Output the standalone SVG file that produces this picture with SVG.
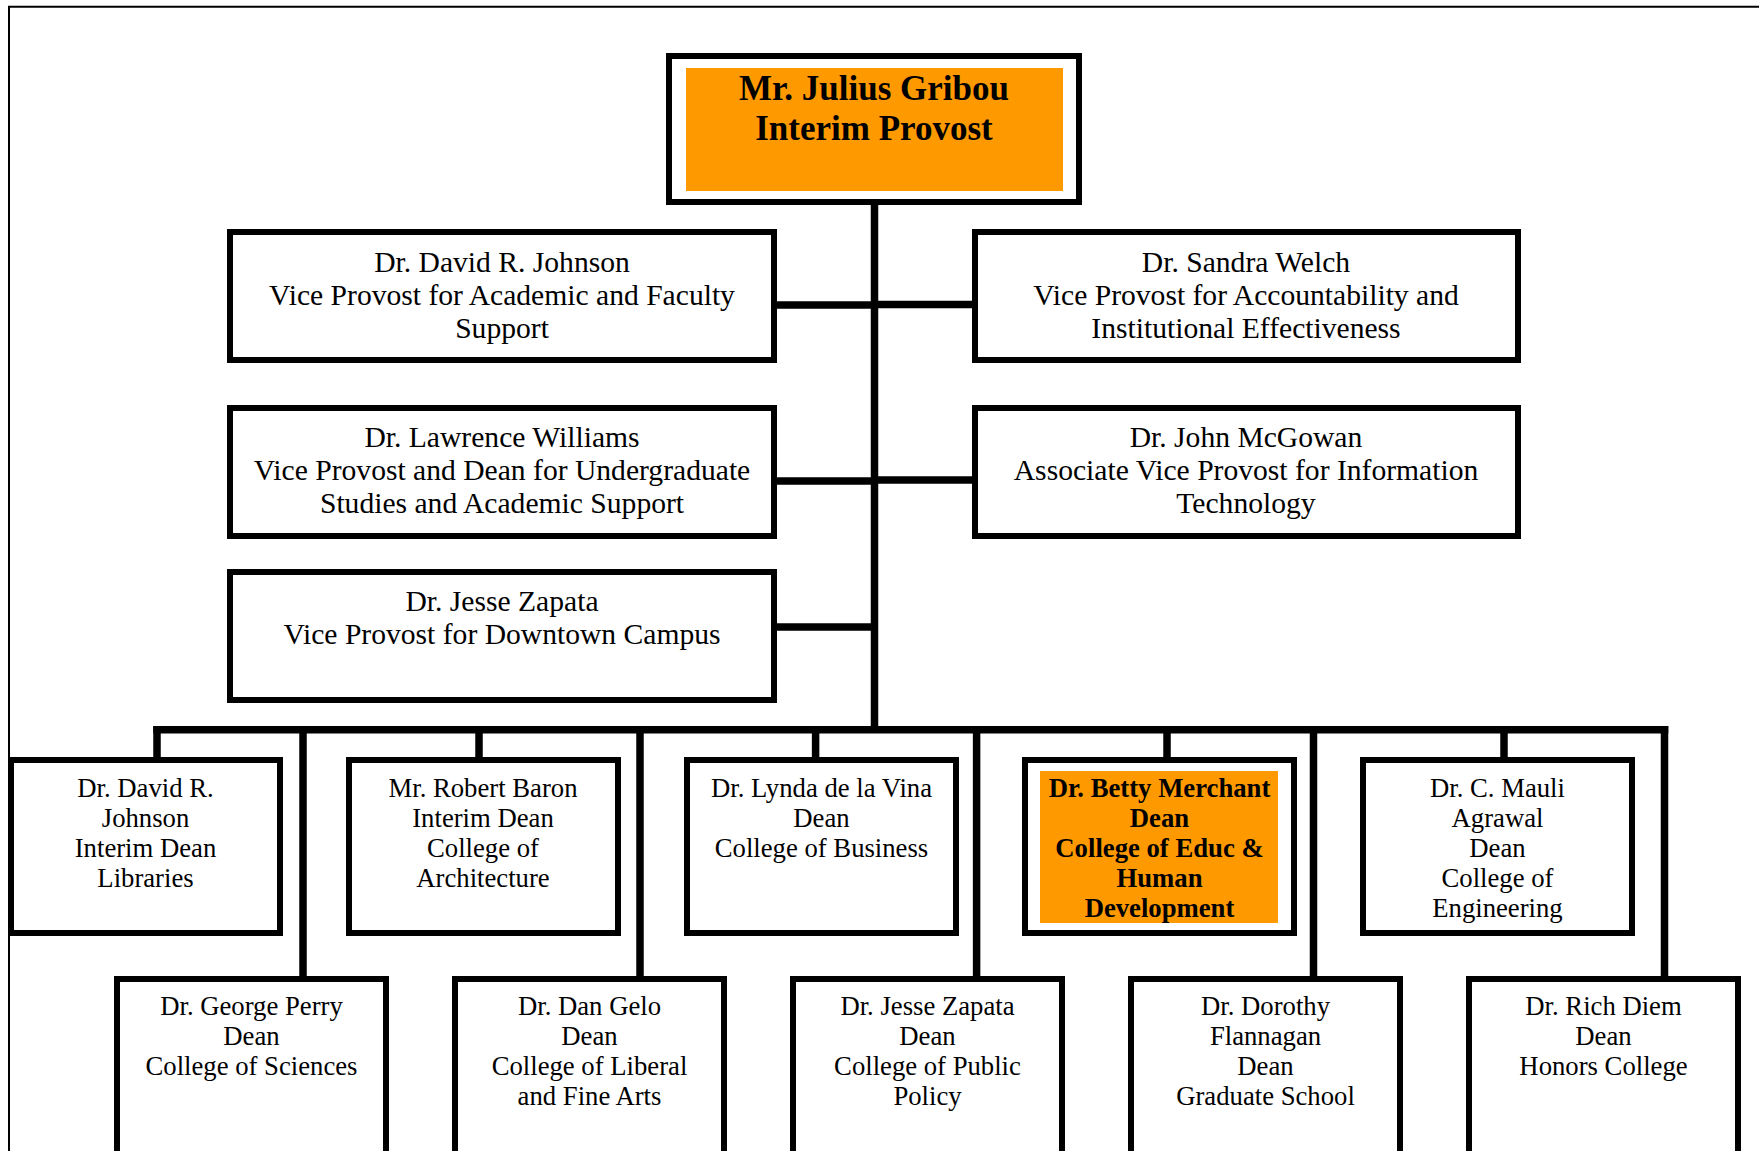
<svg xmlns="http://www.w3.org/2000/svg" width="1759" height="1151" viewBox="0 0 1759 1151">
<style>
.frame{fill:none;stroke:#000;stroke-width:2}
.box{fill:#fff;stroke:#000;stroke-width:6}
.hl{fill:#FF9900}
.conn{stroke:#000;stroke-width:7.5;fill:none}
text{font-family:"Liberation Serif","Times New Roman",serif;fill:#000;text-anchor:middle}
.t29{font-size:29.6px}
.t26{font-size:26.7px}
.b26{font-size:26.7px;font-weight:bold}
.b34{font-size:35px;font-weight:bold}
</style>
<rect width="1759" height="1151" fill="#fff"/>
<path class="frame" d="M9 1151 V6.7 H1759"/>
<g id="connectors">
<line class="conn" x1="874.5" y1="202" x2="874.5" y2="733"/>
<line class="conn" x1="777" y1="305" x2="874.5" y2="305"/>
<line class="conn" x1="777" y1="481" x2="874.5" y2="481"/>
<line class="conn" x1="777" y1="627" x2="874.5" y2="627"/>
<line class="conn" x1="874.5" y1="304.5" x2="972" y2="304.5"/>
<line class="conn" x1="874.5" y1="480" x2="972" y2="480"/>
<line class="conn" x1="153.3" y1="729.7" x2="1668.3" y2="729.7"/>
<line class="conn" x1="157" y1="726" x2="157" y2="760"/>
<line class="conn" x1="303" y1="726" x2="303" y2="979"/>
<line class="conn" x1="479" y1="726" x2="479" y2="760"/>
<line class="conn" x1="640" y1="726" x2="640" y2="979"/>
<line class="conn" x1="815.6" y1="726" x2="815.6" y2="760"/>
<line class="conn" x1="976.6" y1="726" x2="976.6" y2="979"/>
<line class="conn" x1="1167" y1="726" x2="1167" y2="760"/>
<line class="conn" x1="1313.5" y1="726" x2="1313.5" y2="979"/>
<line class="conn" x1="1504" y1="726" x2="1504" y2="760"/>
<line class="conn" x1="1664.5" y1="726" x2="1664.5" y2="979"/>
</g>
<g id="provost">
<rect class="box" x="669" y="56" width="410" height="146"/>
<rect class="hl" x="686" y="68" width="377" height="123"/>
<text class="b34" x="874" y="100">Mr. Julius Gribou</text>
<text class="b34" x="874" y="140">Interim Provost</text>
</g>
<g id="vp-johnson">
<rect class="box" x="230" y="232" width="544" height="128"/>
<text class="t29" x="502" y="272"><tspan x="502">Dr. David R. Johnson</tspan><tspan x="502" dy="33">Vice Provost for Academic and Faculty</tspan><tspan x="502" dy="33">Support</tspan></text>
</g>
<g id="vp-welch">
<rect class="box" x="975" y="232" width="543" height="128"/>
<text class="t29" x="1246" y="272"><tspan x="1246">Dr. Sandra Welch</tspan><tspan x="1246" dy="33">Vice Provost for Accountability and</tspan><tspan x="1246" dy="33">Institutional Effectiveness</tspan></text>
</g>
<g id="vp-williams">
<rect class="box" x="230" y="408" width="544" height="128"/>
<text class="t29" x="502" y="447"><tspan x="502">Dr. Lawrence Williams</tspan><tspan x="502" dy="33">Vice Provost and Dean for Undergraduate</tspan><tspan x="502" dy="33">Studies and Academic Support</tspan></text>
</g>
<g id="vp-mcgowan">
<rect class="box" x="975" y="408" width="543" height="128"/>
<text class="t29" x="1246" y="447"><tspan x="1246">Dr. John McGowan</tspan><tspan x="1246" dy="33">Associate Vice Provost for Information</tspan><tspan x="1246" dy="33">Technology</tspan></text>
</g>
<g id="vp-zapata">
<rect class="box" x="230" y="572" width="544" height="128"/>
<text class="t29" x="502" y="611"><tspan x="502">Dr. Jesse Zapata</tspan><tspan x="502" dy="33">Vice Provost for Downtown Campus</tspan></text>
</g>
<g id="dean-johnson">
<rect class="box" x="11" y="760" width="269" height="173"/>
<text class="t26" x="145.5" y="797"><tspan x="145.5">Dr. David R.</tspan><tspan x="145.5" dy="30">Johnson</tspan><tspan x="145.5" dy="30">Interim Dean</tspan><tspan x="145.5" dy="30">Libraries</tspan></text>
</g>
<g id="dean-baron">
<rect class="box" x="349" y="760" width="269" height="173"/>
<text class="t26" x="483" y="797"><tspan x="483">Mr. Robert Baron</tspan><tspan x="483" dy="30">Interim Dean</tspan><tspan x="483" dy="30">College of</tspan><tspan x="483" dy="30">Architecture</tspan></text>
</g>
<g id="dean-delavina">
<rect class="box" x="687" y="760" width="269" height="173"/>
<text class="t26" x="821.5" y="797"><tspan x="821.5">Dr. Lynda de la Vina</tspan><tspan x="821.5" dy="30">Dean</tspan><tspan x="821.5" dy="30">College of Business</tspan></text>
</g>
<g id="dean-merchant">
<rect class="box" x="1025" y="760" width="269" height="173"/>
<rect class="hl" x="1040" y="771" width="238" height="152"/>
<text class="b26" x="1159.5" y="797"><tspan x="1159.5">Dr. Betty Merchant</tspan><tspan x="1159.5" dy="30">Dean</tspan><tspan x="1159.5" dy="30">College of Educ &amp;</tspan><tspan x="1159.5" dy="30">Human</tspan><tspan x="1159.5" dy="30">Development</tspan></text>
</g>
<g id="dean-agrawal">
<rect class="box" x="1363" y="760" width="269" height="173"/>
<text class="t26" x="1497.5" y="797"><tspan x="1497.5">Dr. C. Mauli</tspan><tspan x="1497.5" dy="30">Agrawal</tspan><tspan x="1497.5" dy="30">Dean</tspan><tspan x="1497.5" dy="30">College of</tspan><tspan x="1497.5" dy="30">Engineering</tspan></text>
</g>
<g id="dean-perry">
<rect class="box" x="117" y="979" width="269" height="190"/>
<text class="t26" x="251.5" y="1015"><tspan x="251.5">Dr. George Perry</tspan><tspan x="251.5" dy="30">Dean</tspan><tspan x="251.5" dy="30">College of Sciences</tspan></text>
</g>
<g id="dean-gelo">
<rect class="box" x="455" y="979" width="269" height="190"/>
<text class="t26" x="589.5" y="1015"><tspan x="589.5">Dr. Dan Gelo</tspan><tspan x="589.5" dy="30">Dean</tspan><tspan x="589.5" dy="30">College of Liberal</tspan><tspan x="589.5" dy="30">and Fine Arts</tspan></text>
</g>
<g id="dean-zapata">
<rect class="box" x="793" y="979" width="269" height="190"/>
<text class="t26" x="927.5" y="1015"><tspan x="927.5">Dr. Jesse Zapata</tspan><tspan x="927.5" dy="30">Dean</tspan><tspan x="927.5" dy="30">College of Public</tspan><tspan x="927.5" dy="30">Policy</tspan></text>
</g>
<g id="dean-flannagan">
<rect class="box" x="1131" y="979" width="269" height="190"/>
<text class="t26" x="1265.5" y="1015"><tspan x="1265.5">Dr. Dorothy</tspan><tspan x="1265.5" dy="30">Flannagan</tspan><tspan x="1265.5" dy="30">Dean</tspan><tspan x="1265.5" dy="30">Graduate School</tspan></text>
</g>
<g id="dean-diem">
<rect class="box" x="1469" y="979" width="269" height="190"/>
<text class="t26" x="1603.5" y="1015"><tspan x="1603.5">Dr. Rich Diem</tspan><tspan x="1603.5" dy="30">Dean</tspan><tspan x="1603.5" dy="30">Honors College</tspan></text>
</g>
</svg>
